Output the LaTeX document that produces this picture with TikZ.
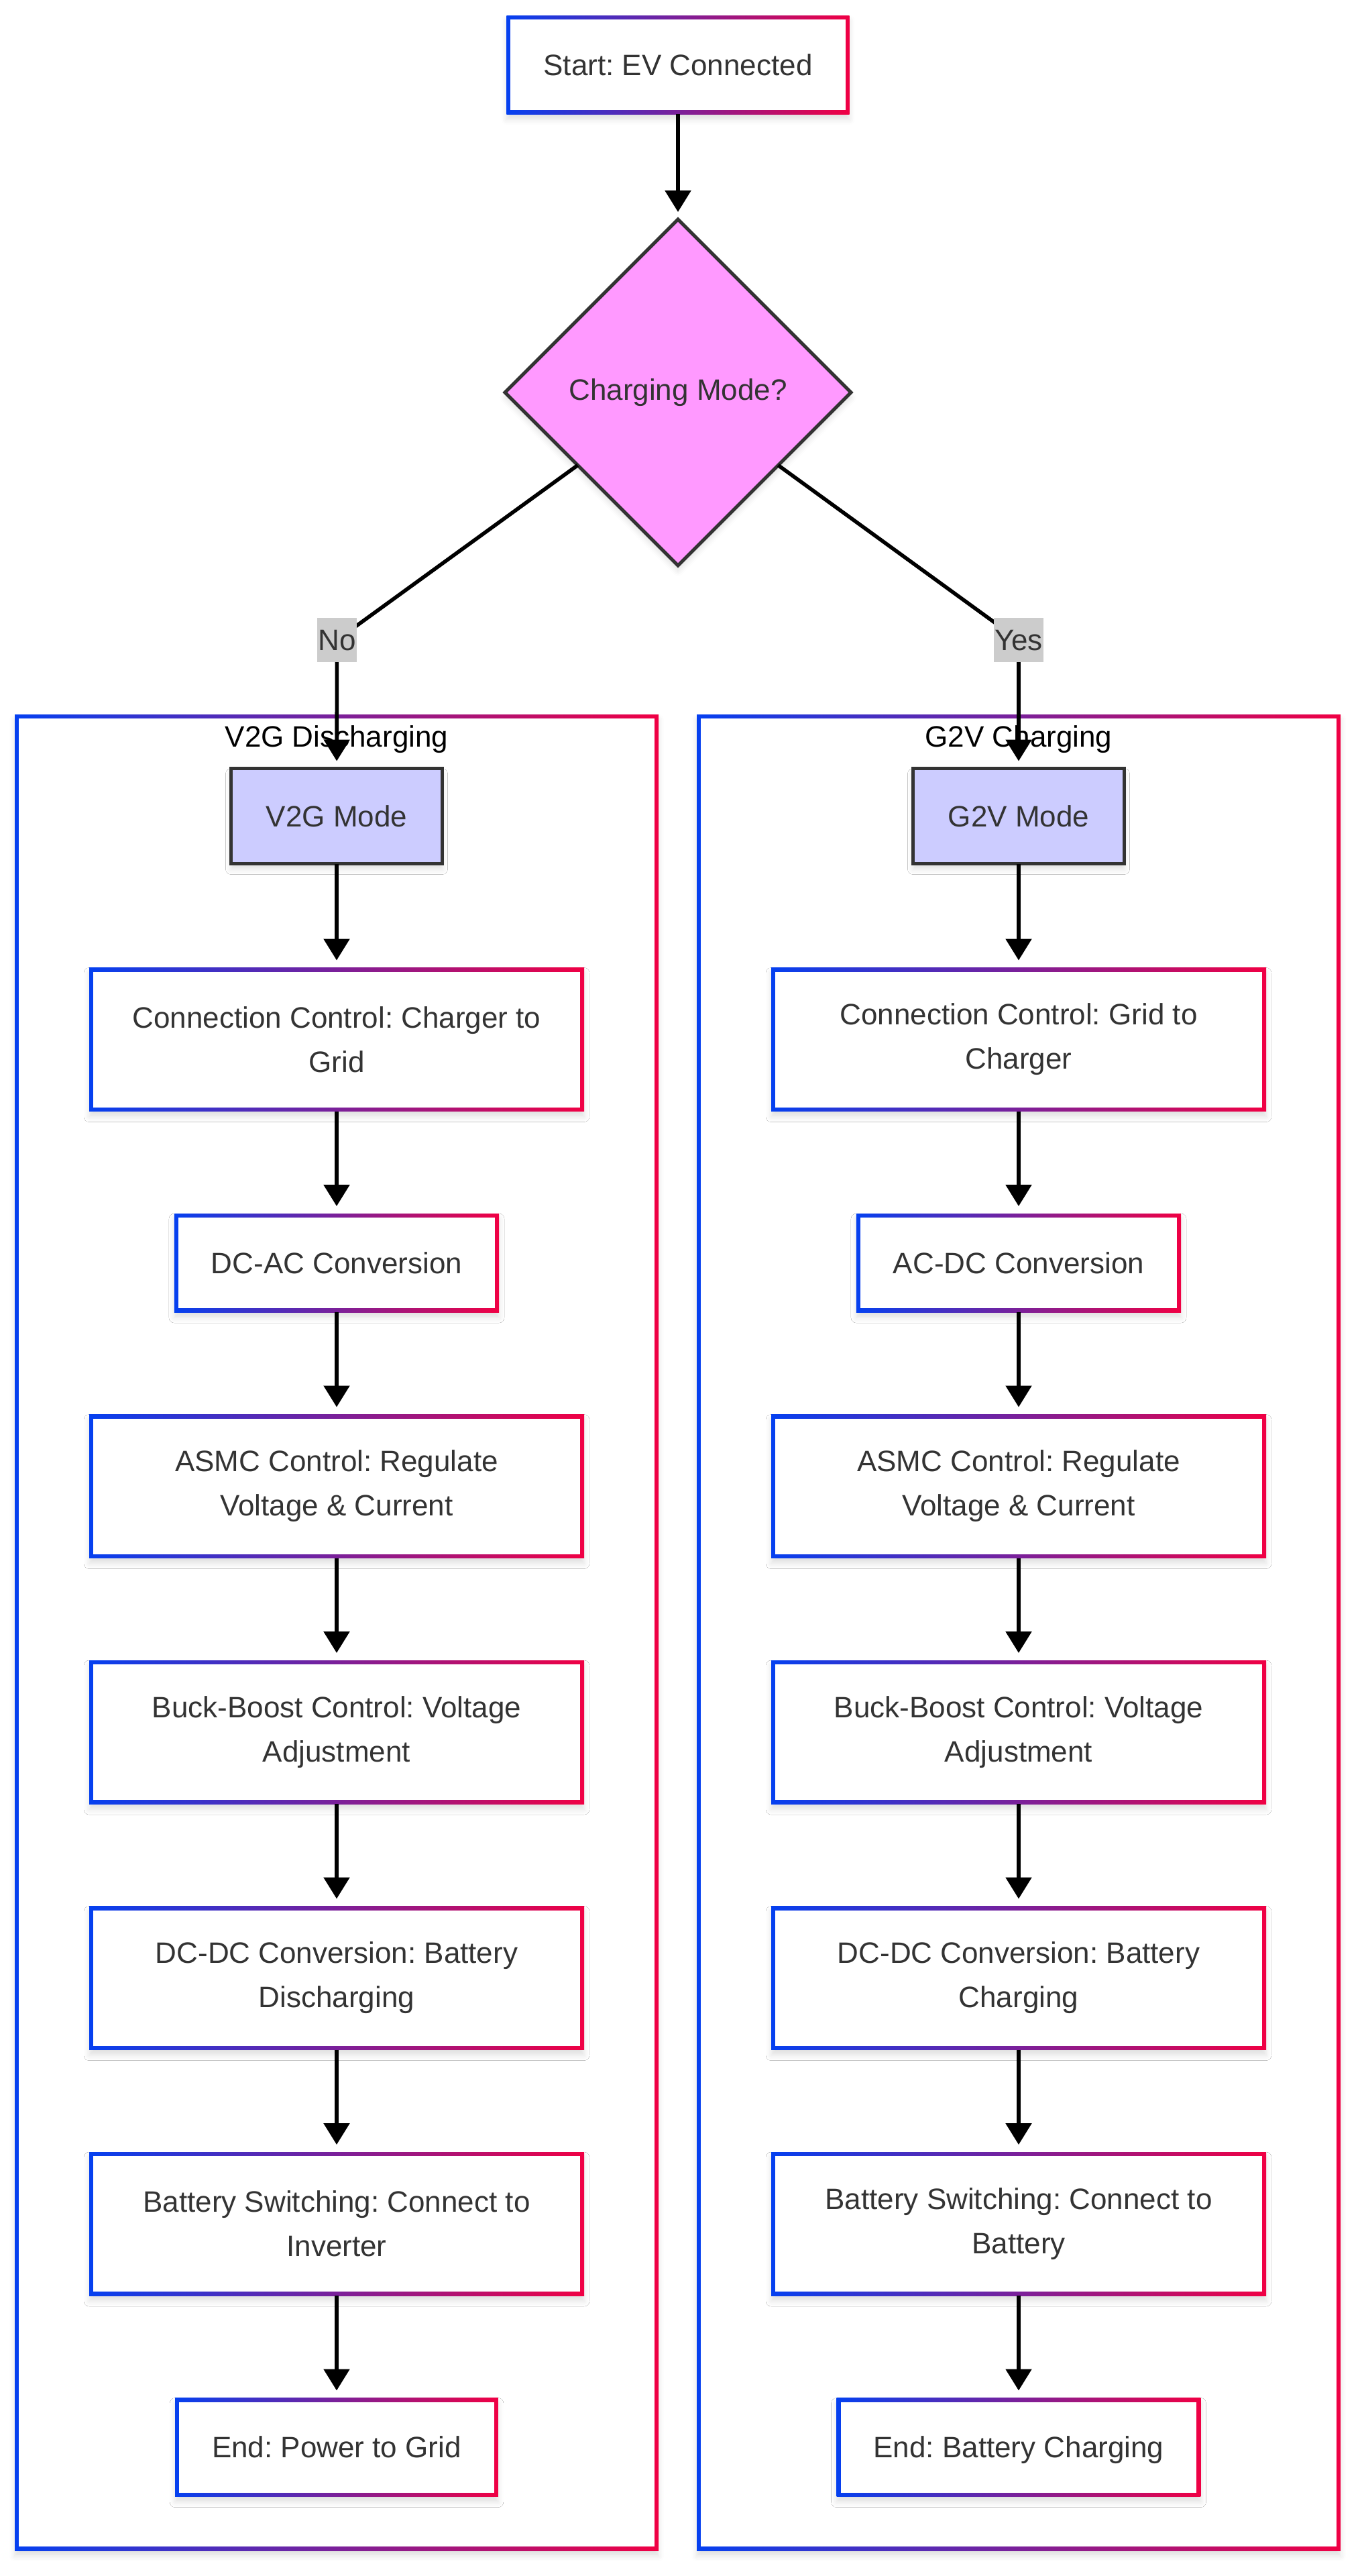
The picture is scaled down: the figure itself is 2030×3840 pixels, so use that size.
\documentclass[tikz,border=0pt]{standalone}
\usepackage{fontspec}
\setmainfont{Liberation Sans}
\frenchspacing
\usetikzlibrary{arrows.meta,shapes.geometric,shadows.blur}
\definecolor{gblue}{RGB}{5,64,240}
\definecolor{gred}{RGB}{240,0,68}
\definecolor{txt}{HTML}{333333}
\definecolor{modefill}{HTML}{CCCCFF}
\definecolor{diafill}{HTML}{FF99FF}
\definecolor{labfill}{HTML}{CCCCCC}
\tikzset{
  gradborder/.style={path picture={
    \shade[left color=gblue,right color=gred] (path picture bounding box.south west) rectangle (path picture bounding box.north east);
    \fill[white] ([shift={(3pt,3pt)}]path picture bounding box.south west) rectangle ([shift={(-3pt,-3pt)}]path picture bounding box.north east);
  }},
  softshadow/.style={blur shadow={shadow xshift=0pt,shadow yshift=-4pt,shadow blur radius=4pt,shadow opacity=12}},
  basefont/.style={font=\fontsize{22pt}{33pt}\selectfont, text=txt},
  onebox/.style={rectangle, softshadow, gradborder, basefont, inner xsep=27.5pt, inner ysep=0pt, minimum height=73.5pt, text height=15.75pt, text depth=0pt, outer sep=0pt},
  twobox/.style={rectangle, softshadow, gradborder, basefont, align=center, inner sep=0pt, minimum width=369pt, minimum height=107pt, outer sep=0pt},
  modebox/.style={rectangle, fill=modefill, draw=txt, line width=2.5pt, softshadow, basefont, inner sep=0pt, minimum width=157.5pt, minimum height=71pt, text height=15.75pt, text depth=0pt, outer sep=0pt},
  decision/.style={diamond, aspect=1, fill=diafill, draw=txt, line width=2.5pt, softshadow, basefont, minimum width=258pt, minimum height=258pt, inner sep=0pt, outer sep=0pt},
  cluster/.style={rectangle, softshadow, gradborder, minimum width=480pt, minimum height=1368.5pt, outer sep=0pt},
  ctitle/.style={font=\fontsize{22pt}{33pt}\selectfont, text=black, anchor=base, inner sep=0pt},
  elabel/.style={rectangle, fill=labfill, basefont, inner xsep=0.5pt, inner ysep=0pt, minimum height=33pt, text height=15.75pt, text depth=0pt},
  flow/.style={line width=2.8pt, draw=black, -{Triangle[length=16pt,width=19pt]}, shorten >=5.5pt},
}
\begin{document}
\begin{tikzpicture}[x=0.5pt,y=-0.5pt]
\useasboundingbox (0,0) rectangle (2030,3840);

% clusters
\node[cluster] (cl) at (502,2433.5) {};
\node[cluster] (cr) at (1519,2433.5) {};
\node[ctitle] (tl) at (502,1113) {V2G Discharging};
\node[ctitle] (tr) at (1519,1113) {G2V Charging};

% top
\node[onebox] (start) at (1011,96.5) {Start: EV Connected};
\node[decision] (dia) at (1011,585) {Charging Mode?};

% left column
\node[modebox] (v2g) at (502,1216.5) {V2G Mode};
\node[twobox] (l1) at (502,1549.5) {Connection Control: Charger to\\Grid};
\node[onebox] (l2) at (502,1882.5) {DC-AC Conversion};
\node[twobox] (l3) at (502,2215.5) {ASMC Control: Regulate\\Voltage \& Current};
\node[twobox] (l4) at (502,2582) {Buck-Boost Control: Voltage\\Adjustment};
\node[twobox] (l5) at (502,2948.5) {DC-DC Conversion: Battery\\Discharging};
\node[twobox] (l6) at (502,3315) {Battery Switching: Connect to\\Inverter};
\node[onebox] (l7) at (502,3648) {End: Power to Grid};

% right column
\node[modebox] (g2v) at (1519,1216.5) {G2V Mode};
\node[twobox] (r1) at (1519,1549.5) {Connection Control: Grid to\\Charger};
\node[onebox] (r2) at (1519,1882.5) {AC-DC Conversion};
\node[twobox] (r3) at (1519,2215.5) {ASMC Control: Regulate\\Voltage \& Current};
\node[twobox] (r4) at (1519,2582) {Buck-Boost Control: Voltage\\Adjustment};
\node[twobox] (r5) at (1519,2948.5) {DC-DC Conversion: Battery\\Charging};
\node[twobox] (r6) at (1519,3315) {Battery Switching: Connect to\\Battery};
\node[onebox] (r7) at (1519,3648) {End: Battery Charging};

% label points
\coordinate (nopt) at (502.5,954);
\coordinate (yespt) at (1519,954);

% edges
\draw[flow] (start) -- (dia);
\draw[flow] (dia) -- (nopt) -- (v2g);
\draw[flow] (dia) -- (yespt) -- (g2v);
\draw[flow] (v2g) -- (l1);
\draw[flow] (l1) -- (l2);
\draw[flow] (l2) -- (l3);
\draw[flow] (l3) -- (l4);
\draw[flow] (l4) -- (l5);
\draw[flow] (l5) -- (l6);
\draw[flow] (l6) -- (l7);
\draw[flow] (g2v) -- (r1);
\draw[flow] (r1) -- (r2);
\draw[flow] (r2) -- (r3);
\draw[flow] (r3) -- (r4);
\draw[flow] (r4) -- (r5);
\draw[flow] (r5) -- (r6);
\draw[flow] (r6) -- (r7);

% edge labels
\node[elabel] (nolab) at (nopt) {No};
\node[elabel] (yeslab) at (yespt) {Yes};
\end{tikzpicture}
\end{document}
